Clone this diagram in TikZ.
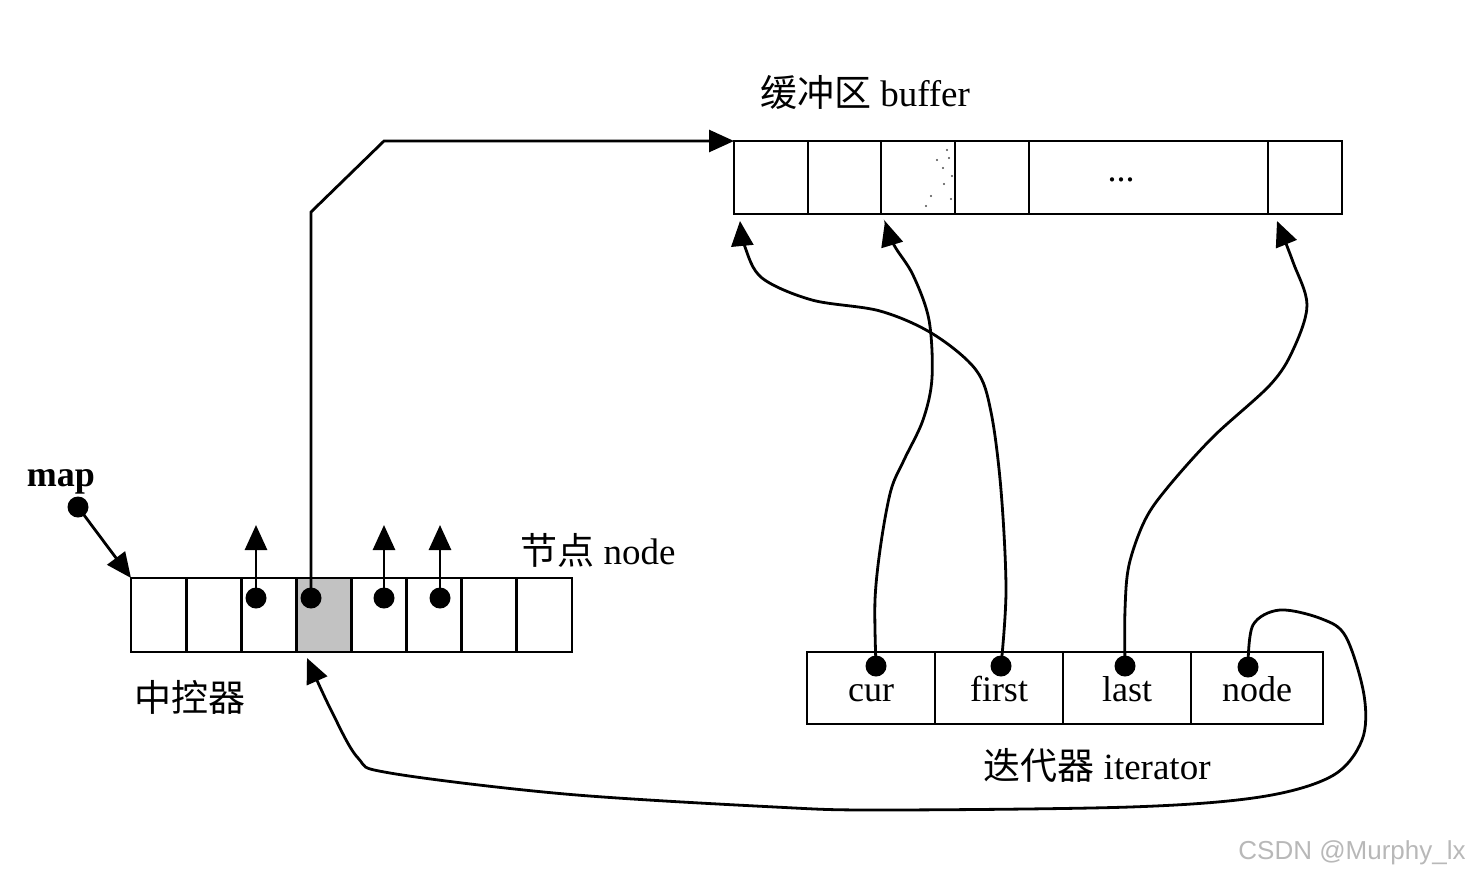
\documentclass[tikz,border=0pt]{standalone}
\usepackage{fontspec}
\setmainfont{Liberation Serif}
\newfontfamily\cjk{Noto Sans CJK SC}
\newfontfamily\wmfont{Liberation Sans}
\usetikzlibrary{arrows.meta,calc}
\begin{document}
\begin{tikzpicture}[x=1pt,y=-1pt,
  lw/.style={line width=2.8pt},
  cellbox/.style={draw, lw, inner sep=0pt, outer sep=0pt, anchor=north west},
  mcell/.style={cellbox, minimum width=55.125pt, minimum height=74pt},
  bcell/.style={cellbox, minimum height=73pt},
  icell/.style={cellbox, minimum height=72pt, text height=27pt, text depth=0pt,
     font=\fontsize{36}{40}\selectfont},
  dotn/.style={circle, fill=black, inner sep=0pt, minimum size=21pt},
  ptr/.style={lw, -{Triangle[length=25pt,width=22pt]}},
  lbl/.style={inner sep=0pt, font=\fontsize{37}{42}\selectfont},
]
\useasboundingbox (0,0) rectangle (1473,879);

% ---- map (central controller) ----
\node[mcell] (m1) at (131,578) {};
\node[mcell] (m2) at (186.125,578) {};
\node[mcell] (m3) at (241.25,578) {};
\node[mcell, fill=black!24] (m4) at (296.375,578) {};
\node[mcell] (m5) at (351.5,578) {};
\node[mcell] (m6) at (406.625,578) {};
\node[mcell] (m7) at (461.75,578) {};
\node[mcell] (m8) at (516.875,578) {};

% ---- buffer ----
\node[bcell, minimum width=74pt] (b1) at (734,141) {};
\node[bcell, minimum width=73pt] (b2) at (808,141) {};
\node[bcell, minimum width=74pt] (b3) at (881,141) {};
\node[bcell, minimum width=74pt] (b4) at (955,141) {};
\node[bcell, minimum width=239pt] (b5) at (1029,141) {};
\node[bcell, minimum width=74pt] (b6) at (1268,141) {};
\node[inner sep=0pt, font=\fontsize{36}{40}\selectfont] (ell) at (1121,180) {...};
% faint speckles in b3
\foreach \p in {(937,160),(943,168),(949,158),(944,184),(951,199),(931,196),(947,150),(926,206),(952,176)}
  \fill[black!70] \p circle (1.1pt);

% ---- iterator ----
\node[icell, minimum width=128pt] (i1) at (807,652) {cur};
\node[icell, minimum width=128pt] (i2) at (935,652) {first};
\node[icell, minimum width=128pt] (i3) at (1063,652) {last};
\node[icell, minimum width=132pt] (i4) at (1191,652) {node};

% ---- labels ----
\node[lbl] (buflbl) at (865,93) {{\cjk 缓冲区} buffer};
\node[lbl] (nodelbl) at (598,550) {{\cjk 节点} node};
\node[lbl] (ctrllbl) at (190,697) {\cjk 中控器};
\node[lbl] (itlbl) at (1097,765) {{\cjk 迭代器} iterator};
\node[lbl, font=\fontsize{36}{40}\selectfont\bfseries] (maplbl) at (61,482) {map};
\node[inner sep=0pt, text=black!28, font=\wmfont\fontsize{26}{30}\selectfont] (wm) at (1352,853) {CSDN @Murphy\_lx};

% ---- coordinates ----
\coordinate (u3) at (256,525);
\coordinate (u5) at (384,525);
\coordinate (u6) at (440,525);
\coordinate (bend1) at (311,212);
\coordinate (bend2) at (384,141);
\coordinate (tb1) at (740,221);
\coordinate (tb3) at (885,221);
\coordinate (tb6) at (1277,221);
\coordinate (tm4) at (307,658);

% dots positions
\coordinate (pmap) at (78,507);
\coordinate (pm3) at (256,598);
\coordinate (pm4) at (311,598);
\coordinate (pm5) at (384,598);
\coordinate (pm6) at (440,598);
\coordinate (pi1) at (876,666);
\coordinate (pi2) at (1001,666);
\coordinate (pi3) at (1125,666);
\coordinate (pi4) at (1248,667);

% ---- connectors ----
\draw[ptr] (pmap) -- (m1.north west);
\draw[ptr] (pm3) -- (u3);
\draw[ptr] (pm5) -- (u5);
\draw[ptr] (pm6) -- (u6);
\draw[ptr, line join=miter] (pm4) -- (bend1) -- (bend2) -- (b1.north west);

\draw[ptr] plot[smooth, tension=0.55] coordinates {(pi1) (875,600) (881,543) (891,490) (904,460) (923,420) (932,378) (929,320) (913,275) (894,245) (tb3)};
\draw[ptr] plot[smooth, tension=0.55] coordinates {(pi2) (1006,590) (1001,490) (991,412) (976,370) (933,334) (880,311) (812,300) (762,278) (745,247) (tb1)};
\draw[ptr] plot[smooth, tension=0.55] coordinates {(pi3) (1125,610) (1129,565) (1145,520) (1168,487) (1213,437) (1270,385) (1293,350) (1307,305) (1293,262) (tb6)};
\draw[ptr] plot[smooth, tension=0.55] coordinates {(pi4) (1253,625) (1280,610) (1322,619) (1346,637) (1364,695) (1362,740) (1332,776) (1260,797) (1130,807) (880,810) (775,807) (565,794) (390,773) (358,758) (331,710) (tm4)};

% ---- dots ----
\node[dotn] (dmap) at (pmap) {};
\node[dotn] (dm3) at (pm3) {};
\node[dotn] (dm4) at (pm4) {};
\node[dotn] (dm5) at (pm5) {};
\node[dotn] (dm6) at (pm6) {};
\node[dotn] (di1) at (pi1) {};
\node[dotn] (di2) at (pi2) {};
\node[dotn] (di3) at (pi3) {};
\node[dotn] (di4) at (pi4) {};
\end{tikzpicture}
\end{document}
